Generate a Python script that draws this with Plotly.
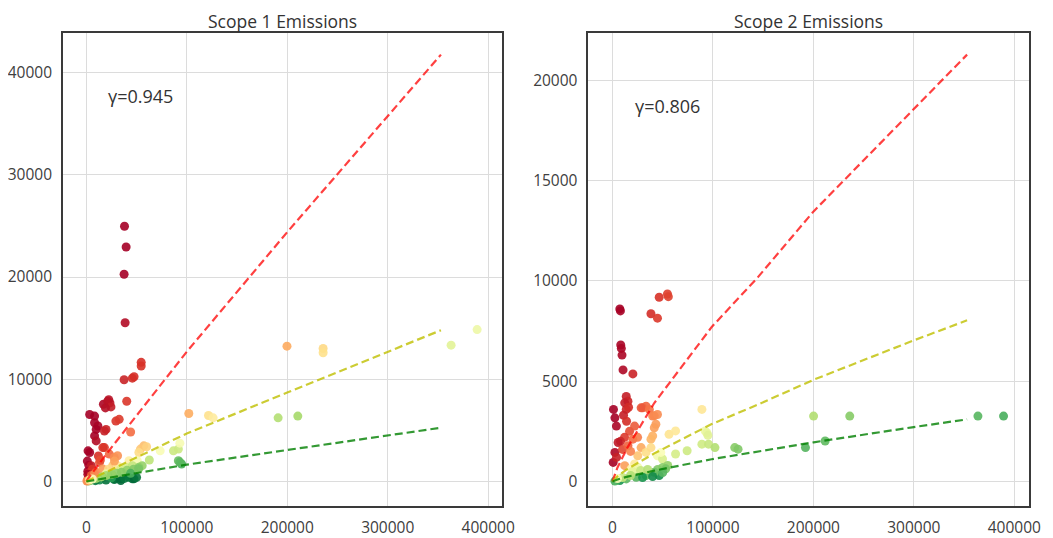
import numpy as np
import plotly.graph_objects as go
import plotly.colors as pc

# ---------------- data: Scope 1 (left) ----------------
x1 = [38000, 39600, 37600, 38600, 54600, 54600, 37600, 45800, 47500, 40200,
      17000, 21300, 23500, 22300, 24500, 19000,
      3300, 8200, 8200, 11500, 9800, 19600, 18000, 29400, 32700, 44100,
      8200, 9800, 1700, 3300, 18000, 22900, 27800, 31100, 16400,
      1000, 2500, 4900, 1500, 3300, 6000, 9800, 13100, 16400, 12000, 14000,
      26200, 31100, 22000, 28000, 57200, 53900, 52300, 60000,
      73500, 86700, 91600, 93100, 62700, 42500, 50700, 55600, 19600, 26200,
      91600, 94800, 93000, 34300, 39200, 45800, 52300,
      16400, 27800, 34300, 45800, 42500, 47400, 6500, 13100, 19600, 27800, 34300,
      2000, 4000, 9000, 25000, 38000, 50000,
      40500, 47000, 52000, 30000, 35000, 20000, 10000, 15000, 25000, 44000,
      1000, 2000, 3000, 1500, 5000, 8000, 600, 3000, 6000,
      102000, 121600, 126200, 199700, 235700, 235700, 363100, 389000, 190900, 210500]
y1 = [24970, 22940, 20280, 15530, 11660, 11300, 9950, 10110, 10250, 7850,
      7560, 7850, 7690, 8010, 7300, 7200,
      6560, 6400, 5750, 5430, 5100, 5100, 4940, 5910, 6080, 4840,
      4460, 3970, 3000, 2840, 3320, 2680, 2350, 2520, 3320,
      2000, 1600, 1550, 1000, 900, 1200, 900, 1870, 1230, 2500, 2100,
      1550, 1550, 1200, 2000, 3490, 3170, 2840, 3400,
      3000, 3000, 3170, 3750, 2100, 2030, 2030, 1550, 750, 580,
      2030, 1710, 1900, 1230, 1390, 1550, 1390,
      380, 260, 260, 260, 420, 260, 200, 150, 150, 200, 100,
      50, 100, 80, 350, 300, 400,
      1100, 1200, 1250, 800, 900, 600, 300, 450, 700, 800,
      100, 300, 500, 700, 600, 700, 50, 150, 250,
      6650, 6460, 6230, 13240, 13010, 12600, 13340, 14860, 6230, 6400]

# ---------------- data: Scope 2 (right) ----------------
x2 = [7300, 7900, 46500, 54700, 55600, 38300, 44800, 8200, 8800, 9500, 10500, 20300,
      13700, 15400, 13700, 1000, 2400, 3900, 12200, 16000, 11000, 14000, 17000, 12000,
      8000, 5600, 2400, 700, 4000, 10000, 15400, 20300, 22000,
      30100, 33400, 28500, 36700, 40000, 41600, 44800, 43200, 41600, 40000,
      28500, 25200, 33400, 22000, 18000, 25000,
      89000, 56300, 62800, 38300, 38300,
      92200, 93900, 95000, 44800, 49800, 48100, 12200, 18600, 25200,
      89000, 95600, 102000, 74300, 62800, 200200, 236200,
      121700, 125000, 192100, 211700, 363800, 389300, 50000, 55000, 45000,
      46500, 53000, 41600, 33400, 23600, 13700, 7300, 2400, 20000, 28000, 35000,
      30000, 18000, 10000, 5000, 40000, 50000]
y2 = [8600, 8500, 9180, 9340, 9210, 8360, 8140, 6800, 6630, 6300, 5560, 5360,
      4240, 4000, 3590, 3590, 3170, 2760, 3920, 3700, 3300, 3000, 2500, 2200,
      2000, 1940, 1450, 950, 1200, 1600, 1780, 2110, 2760,
      3670, 3750, 3670, 3590, 3260, 3270, 3340, 2850, 2680, 2270,
      1690, 1280, 1450, 870, 1500, 2200,
      3590, 2350, 2520, 2110, 1690,
      2520, 2430, 2300, 1280, 1120, 1450, 790, 630, 710,
      1860, 1860, 1690, 1530, 1370, 3260, 3260,
      1690, 1610, 1690, 2020, 3260, 3260, 700, 800, 600,
      300, 630, 460, 300, 210, 130, 50, 20, 500, 550, 600,
      200, 300, 200, 150, 250, 450]

# ---------------- reference lines ----------------
l1_x = [0, 2000, 20000, 100000, 200000, 353000]
l1_red = [0, 320, 2700, 12700, 24400, 41760]
l1_yel = [0, 95, 950, 4700, 8700, 14800]
l1_grn = [0, 34, 340, 1650, 3080, 5260]

l2_x = [0, 5000, 15000, 41600, 98800, 144600, 200200, 298300, 353000]
l2_red = [0, 700, 1700, 3910, 7700, 10170, 13460, 18480, 21270]
l2_yel = [0, 259, 629, 1400, 2860, 3830, 5070, 7000, 8030]
l2_grn = [0, 100, 242, 540, 1110, 1480, 1953, 2700, 3095]

gamma_labels = ["γ=0.945", "γ=0.806"]
titles = ["Scope 1 Emissions", "Scope 2 Emissions"]

# colour mapping (log intensity -> RdYlGn position)
bk1_v = [-2.2, -2.0, -1.66, -1.49, -1.42, -1.27, -1.19, -0.96, -0.68, -0.3]
bk1_p = [1.0, 0.95, 0.8, 0.68, 0.55, 0.4, 0.3, 0.2, 0.1, 0.0]
bk2_v = [-2.3, -2.19, -2.05, -1.86, -1.79, -1.68, -1.57, -1.39, -1.24, -1.13, -0.7, -0.3, 0.1]
bk2_p = [1.0, 0.92, 0.82, 0.75, 0.68, 0.62, 0.55, 0.42, 0.3, 0.25, 0.1, 0.02, 0.0]

scale = pc.make_colorscale(pc.diverging.RdYlGn)


def point_colors(x, y, bv, bp):
    v = np.log10(np.array(y, float) / np.array(x, float))
    p = np.clip(np.interp(v, bv, bp), 0, 1)
    return pc.sample_colorscale(scale, list(p))


c1 = point_colors(x1, y1, bk1_v, bk1_p)
c2 = point_colors(x2, y2, bk2_v, bk2_p)

fig = go.Figure()

dash = "8px,4px"
for (xs, ys, cs, lx, lr, ly, lg, ax) in [
    (x1, y1, c1, l1_x, l1_red, l1_yel, l1_grn, ""),
    (x2, y2, c2, l2_x, l2_red, l2_yel, l2_grn, "2"),
]:
    fig.add_trace(go.Scatter(x=xs, y=ys, mode="markers",
                             marker=dict(size=9, color=cs, opacity=0.9, line=dict(width=0)),
                             xaxis="x" + ax, yaxis="y" + ax, hoverinfo="skip"))
    fig.add_trace(go.Scatter(x=lx, y=lr, mode="lines",
                             line=dict(color="rgba(255,0,0,0.75)", width=2.2, dash=dash),
                             xaxis="x" + ax, yaxis="y" + ax))
    fig.add_trace(go.Scatter(x=lx, y=ly, mode="lines",
                             line=dict(color="rgba(191,191,0,0.8)", width=2.2, dash=dash),
                             xaxis="x" + ax, yaxis="y" + ax))
    fig.add_trace(go.Scatter(x=lx, y=lg, mode="lines",
                             line=dict(color="rgba(0,128,0,0.8)", width=2.2, dash=dash),
                             xaxis="x" + ax, yaxis="y" + ax))

# the page body has an 8px margin: lay the figure out in reference pixels minus that offset
OFF = 8
W, H = 1053 - OFF, 538 - OFF


def px_x(p):
    return (p - OFF) / W


def px_y(p):
    return 1 - (p - OFF) / H


axis_common = dict(showgrid=True, gridcolor="#dcdcdc", gridwidth=1, zeroline=False,
                   showline=True, linecolor="#3a3a3a", linewidth=1.6, mirror=True,
                   ticks="outside", ticklen=6, tickcolor="rgba(0,0,0,0)",
                   tickfont=dict(family="Open Sans", size=15.5, color="#404040"),
                   tickformat="d")

dom_y = [px_y(511.2), px_y(33.3)]
dom_x1 = [px_x(61.7), px_x(506.7)]
dom_x2 = [px_x(594.8), px_x(1041.8)]

fig.update_layout(
    width=W, height=H, margin=dict(l=0, r=0, t=0, b=0),
    paper_bgcolor="white", plot_bgcolor="white", showlegend=False,
    xaxis=dict(axis_common, domain=dom_x1, range=[-23300, 413300], dtick=100000, anchor="y"),
    yaxis=dict(axis_common, domain=dom_y, range=[-2440, 43870], dtick=10000, anchor="x"),
    xaxis2=dict(axis_common, domain=dom_x2, range=[-24000, 414600], dtick=100000, anchor="y2"),
    yaxis2=dict(axis_common, domain=dom_y, range=[-1244, 22345], dtick=5000, anchor="x2"),
)

for dx, t in zip([dom_x1, dom_x2], titles):
    fig.add_annotation(text=t, xref="paper", yref="paper", x=(dx[0] + dx[1]) / 2,
                       y=1, xanchor="center", yanchor="top", showarrow=False, borderpad=0,
                       font=dict(family="Open Sans", size=17.5, color="#333333"))

fig.add_annotation(text=gamma_labels[0], xref="x", yref="y", x=20000, y=37700,
                   xanchor="left", yanchor="middle", showarrow=False,
                   font=dict(family="Open Sans", size=18, color="#333333"))
fig.add_annotation(text=gamma_labels[1], xref="x2", yref="y2", x=20000, y=18700,
                   xanchor="left", yanchor="middle", showarrow=False,
                   font=dict(family="Open Sans", size=18, color="#333333"))

fig.write_html("out.html")
